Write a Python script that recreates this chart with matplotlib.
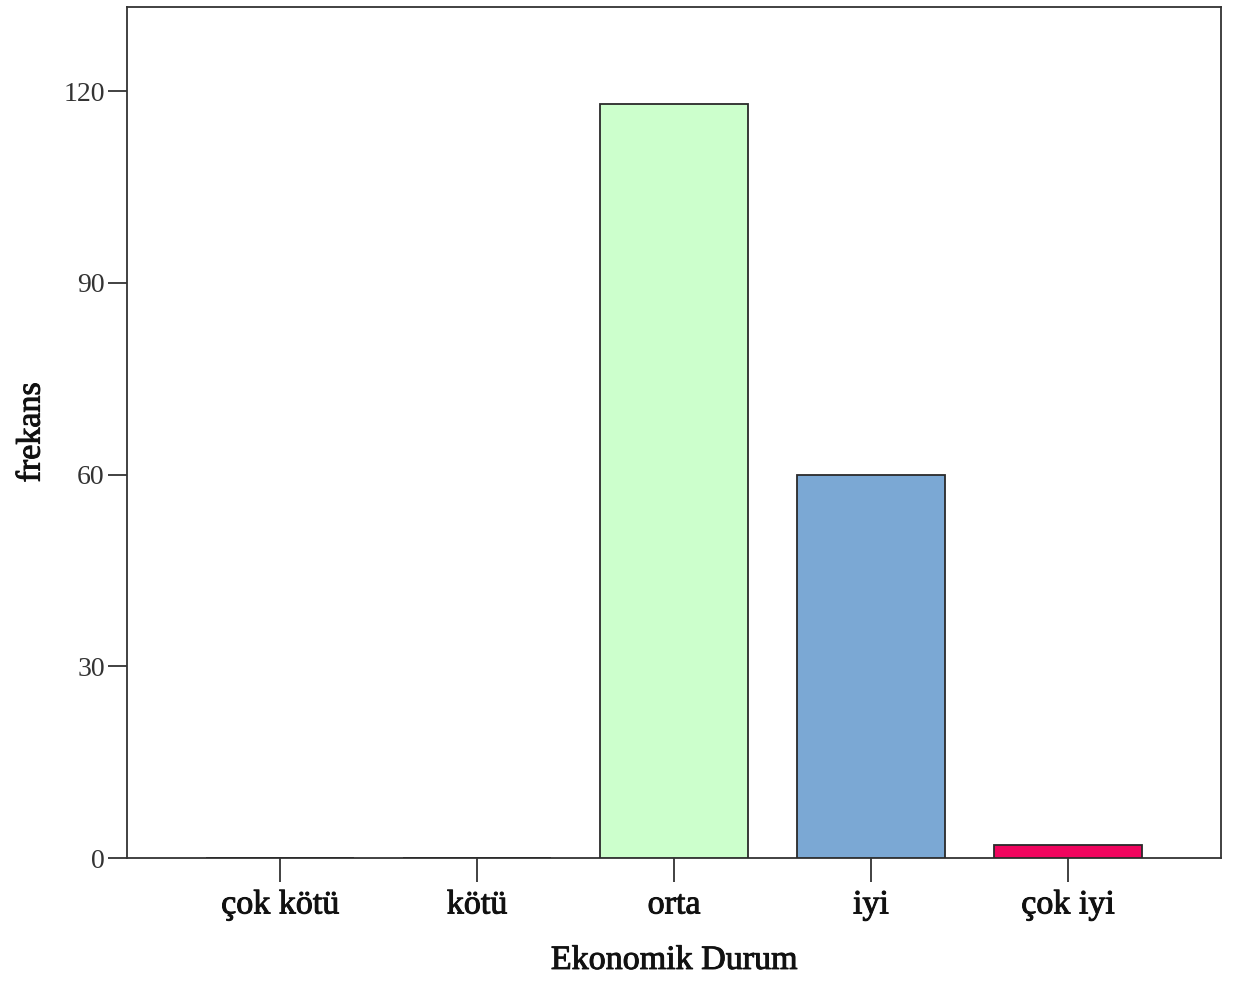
import matplotlib
matplotlib.use("Agg")
import matplotlib.pyplot as plt
import matplotlib.patheffects as pe

categories = ["çok kötü", "kötü", "orta", "iyi", "çok iyi"]
values = [0, 0, 118, 60, 2]
colors = ["#CCFFCC", "#CCFFCC", "#CCFFCC", "#7BA8D4", "#F0055E"]
yticks = [0, 30, 60, 90, 120]

plt.rcParams['font.family'] = ['Liberation Serif', 'DejaVu Serif']

fig = plt.figure(figsize=(12.33, 9.83), dpi=100)
ax = fig.add_axes([127/1233, 1 - 858/983, (1221-127)/1233, (858-7)/983])

x = list(range(len(categories)))
ax.bar(x, values, width=0.75, color=colors, edgecolor="#2a2a2a", linewidth=1.3, zorder=3)

semi = [pe.withStroke(linewidth=0.7, foreground="#111111")]

ax.set_xlim(-0.777, 4.777)
ax.set_ylim(0, 133.2)
ax.set_xticks(x)
ax.set_xticklabels(categories, fontsize=24.5, color="#111111", path_effects=semi)
ax.set_yticks(yticks)
ax.set_yticklabels([str(t) for t in yticks], fontsize=20, color="#333333")
ax.tick_params(axis='x', length=17, width=1.3, color="#333333", pad=6)
ax.tick_params(axis='y', length=14, width=1.3, color="#333333", pad=2)
for s in ax.spines.values():
    s.set_linewidth(1.3)
    s.set_color("#333333")

ax.set_xlabel("Ekonomik Durum", fontsize=24.5, color="#111111", labelpad=18, path_effects=semi)
ax.set_ylabel("frekans", fontsize=24.5, color="#111111", labelpad=12, path_effects=semi)

fig.savefig("out.png", dpi=100)
